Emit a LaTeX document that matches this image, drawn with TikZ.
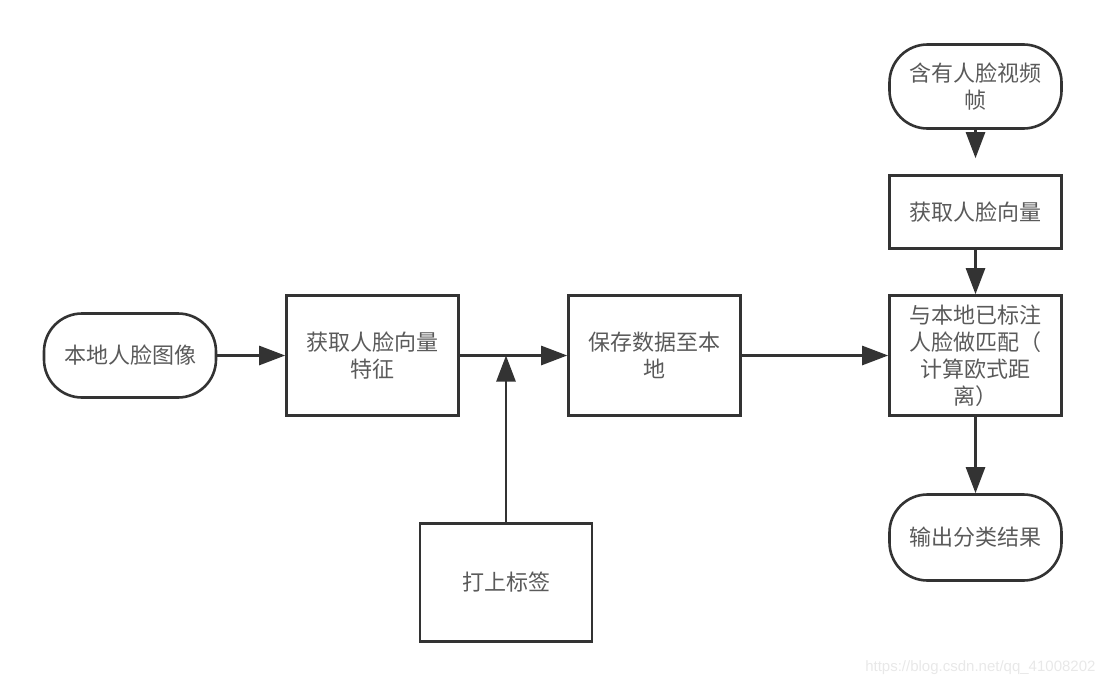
\documentclass[tikz,border=0pt]{standalone}
\usepackage{fontspec}
\usetikzlibrary{arrows.meta}
\newfontfamily\cjk{Noto Sans CJK SC}
\newfontfamily\wmfont{Liberation Sans}
\definecolor{edge}{HTML}{333333}
\definecolor{txt}{HTML}{5A5A5A}
\begin{document}
\begin{tikzpicture}[x=1pt,y=-1pt,
    blk/.style={draw=edge,line width=2.6pt,minimum width=172pt,align=center,
      text=txt,font=\cjk\fontsize{22}{27}\selectfont},
    arr/.style={draw=edge,line width=2.6pt,-{Triangle[length=26pt,width=19pt]}}]
  \useasboundingbox (0,0) rectangle (1108,688);
  \def \Nodes{
    local/130/355.5/84/38/本地人脸图像,
    feat/372.5/355.5/120/0/获取人脸向量\\特征,
    save/654.5/355.5/120/0/保存数据至本\\地,
    tag/506/582.5/118/0/打上标签,
    video/975.5/86.5/84/38/含有人脸视频\\帧,
    vec/975.5/212/73/0/获取人脸向量,
    match/975.5/355.5/120/0/与本地已标注\\人脸做匹配（\\计算欧式距\\离）,
    out/975.5/537.5/86/38/输出分类结果}
  \def \Edges{
    local/feat,
    feat/save,
    save/match,
    vec/match,
    match/out}
  \foreach \id / \x / \y / \h / \r / \lb in \Nodes{
    \node[blk,minimum height=\h pt,rounded corners=\r pt] (\id) at (\x, \y) {\lb};
  }
  \foreach \a / \b in \Edges{
    \draw[arr] (\a) -- (\b);
  }
  \draw[arr,shorten >=16pt] (video) -- (vec);
  \draw[arr] (tag.north) -- (tag.north |- feat.east);
  \node[anchor=east,text=gray!18,font=\wmfont\fontsize{15}{18}\selectfont] (watermark) at (1099,668) {https://blog.csdn.net/qq\_41008202};
\end{tikzpicture}
\end{document}
